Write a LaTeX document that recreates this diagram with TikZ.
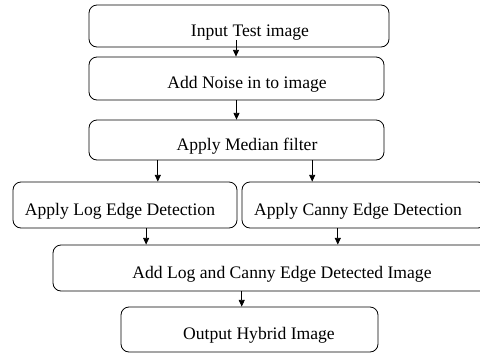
\documentclass[tikz,border=0pt]{standalone}
\usepackage{fontspec}
\setmainfont{Liberation Serif}
\usetikzlibrary{arrows.meta,calc}
\tikzset{>={Triangle[length=5pt,width=4.5pt]},stage/.style={draw,rounded corners=6pt,inner sep=0pt,text height=1.5em,text depth=0pt,font=\fontsize{13.2}{16}\selectfont},flow/.style={->,line width=.6pt}}
\begin{document}
\begin{tikzpicture}[x=.75pt,y=-.75pt,line width=.6pt]
\useasboundingbox (0,0) rectangle (480,358);
\clip (0,0) rectangle (480,358);
\node[stage,minimum width=225pt,minimum height=31.5pt] (in) at (239,26) {\hspace{16.5pt}Input Test image};
\node[stage,minimum width=221.25pt,minimum height=32.25pt] (noise) at (236.5,78.5) {\hspace{15.75pt}Add Noise in to image};
\node[stage,minimum width=221.25pt,minimum height=30pt] (median) at (236.5,140) {\hspace{15.75pt}Apply Median filter};
\node[stage,minimum width=168pt,minimum height=34.5pt] (log) at (125,205) {Apply Log Edge Detection\hspace{7.5pt}\null};
\node[stage,minimum width=183pt,minimum height=34.5pt] (canny) at (364,205) {Apply Canny Edge Detection\hspace{9pt}\null};
\node[stage,minimum width=327.75pt,minimum height=34.5pt] (add) at (271.5,268) {\hspace{15.75pt}Add Log and Canny Edge Detected Image};
\node[stage,minimum width=192.75pt,minimum height=33.75pt] (out) at (249.5,329.5) {\hspace{14.25pt}Output Hybrid Image};
\draw[flow] ([xshift=-2.25pt,yshift=5.25pt]in.south) coordinate (a1) -- (a1 |- noise.north);
\draw[flow] (noise.south) -- (median.north);
\draw[flow] ($(median.south west)!.234!(median.south east)$) coordinate (m1) -- (m1 |- log.north);
\draw[flow] ($(median.south west)!.756!(median.south east)$) coordinate (m2) -- (m2 |- canny.north);
\draw[flow] ($(log.south west)!.594!(log.south east)$) coordinate (l1) -- (l1 |- add.north);
\draw[flow] ($(canny.south west)!.393!(canny.south east)$) coordinate (c1) -- (c1 |- add.north);
\draw[flow] ($(add.south west)!.432!(add.south east)$) coordinate (d1) -- (d1 |- out.north);
\end{tikzpicture}
\end{document}
